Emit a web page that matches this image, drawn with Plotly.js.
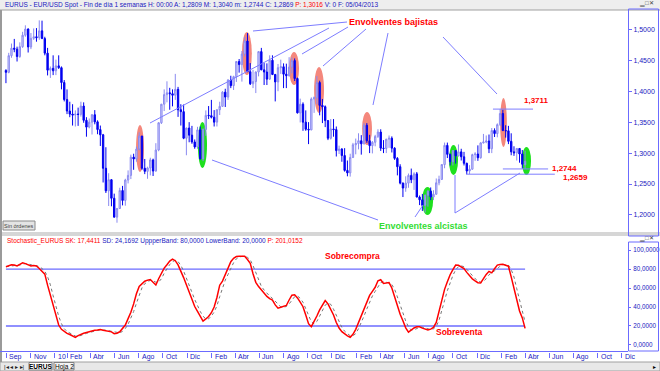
<!DOCTYPE html>
<html><head><meta charset="utf-8">
<script src="https://cdn.plot.ly/plotly-3.0.1.min.js"></script>
<style>html,body{margin:0;padding:0;background:#fff;overflow:hidden}#chart{width:660px;height:371px}</style>
</head><body><div id="chart"></div>
<script>
// ---------- DATA ----------
const firstWeek = '2009-08-31';
const opens = [1.4335,1.4305,1.4575,1.4695,1.4680,1.4560,1.4720,1.4905,1.5005,1.4715,1.4855,1.4880,1.4865,1.4975,1.4850,1.4615,1.4340,1.4370,1.4330,1.4410,1.4380,1.4140,1.3865,1.3680,1.3630,1.3615,1.3630,1.3625,1.3760,1.3530,1.3420,1.3500,1.3620,1.3505,1.3380,1.3295,1.2755,1.2390,1.2570,1.2270,1.1965,1.2105,1.2395,1.2235,1.2565,1.2640,1.2935,1.2905,1.3065,1.3275,1.2755,1.2705,1.2760,1.2890,1.2710,1.3050,1.3490,1.3790,1.3945,1.3975,1.3960,1.3935,1.4030,1.3700,1.3670,1.3240,1.3405,1.3290,1.3180,1.3100,1.3375,1.2905,1.3380,1.3610,1.3605,1.3580,1.3500,1.3700,1.3755,1.3985,1.3905,1.4180,1.4090,1.4235,1.4480,1.4430,1.4600,1.4810,1.4315,1.4120,1.4155,1.4310,1.4640,1.4345,1.4310,1.4195,1.4500,1.4270,1.4150,1.4380,1.4395,1.4275,1.4250,1.4390,1.4495,1.4205,1.3650,1.3790,1.3500,1.3385,1.3375,1.3875,1.3895,1.4140,1.3770,1.3750,1.3525,1.3240,1.3390,1.3380,1.3040,1.3065,1.2960,1.2720,1.2680,1.2930,1.3135,1.3155,1.3200,1.3150,1.3450,1.3200,1.3120,1.3175,1.3270,1.3340,1.3080,1.3075,1.3225,1.3240,1.3080,1.2915,1.2780,1.2515,1.2435,1.2515,1.2640,1.2570,1.2665,1.2290,1.2245,1.2155,1.2320,1.2385,1.2290,1.2335,1.2520,1.2575,1.2815,1.3125,1.2980,1.2860,1.3040,1.2955,1.3020,1.2940,1.2835,1.2710,1.2740,1.2975,1.2985,1.2925,1.3165,1.3180,1.3195,1.3070,1.3365,1.3315,1.3460,1.3640,1.3365,1.3360,1.3190,1.3020,1.3005,1.3075,1.2985,1.2809];
const highs = [1.4355,1.4620,1.4770,1.4845,1.4720,1.4790,1.4960,1.5065,1.5015,1.4940,1.5015,1.5020,1.5145,1.5140,1.4880,1.4700,1.4400,1.4580,1.4510,1.4580,1.4400,1.4180,1.4030,1.3830,1.3790,1.3690,1.3735,1.3830,1.3820,1.3580,1.3560,1.3630,1.3695,1.3530,1.3445,1.3310,1.3095,1.2675,1.2580,1.2345,1.2110,1.2440,1.2470,1.2585,1.2720,1.2975,1.2990,1.3105,1.3335,1.3280,1.2905,1.2780,1.2925,1.2910,1.3160,1.3500,1.3795,1.4030,1.4160,1.4055,1.4030,1.4280,1.4070,1.3790,1.3785,1.3410,1.3500,1.3440,1.3220,1.3425,1.3430,1.3400,1.3690,1.3760,1.3860,1.3695,1.3710,1.3830,1.4000,1.4040,1.4195,1.4250,1.4250,1.4485,1.4520,1.4650,1.4880,1.4940,1.4455,1.4345,1.4320,1.4650,1.4700,1.4455,1.4450,1.4580,1.4580,1.4280,1.4440,1.4510,1.4450,1.4445,1.4550,1.4545,1.4530,1.4220,1.3880,1.3820,1.3690,1.3500,1.3900,1.3915,1.4245,1.4170,1.3875,1.3770,1.3535,1.3550,1.3550,1.3430,1.3120,1.3080,1.3080,1.2880,1.2990,1.3165,1.3235,1.3320,1.3290,1.3485,1.3485,1.3295,1.3195,1.3295,1.3385,1.3385,1.3210,1.3230,1.3285,1.3270,1.3095,1.2935,1.2820,1.2525,1.2625,1.2670,1.2750,1.2690,1.2695,1.2315,1.2340,1.2330,1.2400,1.2445,1.2400,1.2590,1.2635,1.2820,1.3170,1.3170,1.2990,1.3045,1.3045,1.3140,1.3070,1.3020,1.2845,1.2805,1.2990,1.3015,1.3125,1.3175,1.3310,1.3285,1.3300,1.3405,1.3400,1.3480,1.3711,1.3700,1.3450,1.3440,1.3320,1.3110,1.3080,1.3075,1.3050,1.3040];
const lows = [1.4130,1.4290,1.4540,1.4630,1.4480,1.4540,1.4700,1.4880,1.4625,1.4680,1.4830,1.4800,1.4830,1.4850,1.4580,1.4255,1.4215,1.4260,1.4260,1.4360,1.4030,1.3835,1.3630,1.3580,1.3445,1.3430,1.3440,1.3590,1.3490,1.3265,1.3400,1.3300,1.3465,1.3305,1.3115,1.2525,1.2355,1.2145,1.2140,1.1960,1.1875,1.2100,1.2155,1.2150,1.2510,1.2580,1.2730,1.2860,1.3045,1.2730,1.2660,1.2585,1.2640,1.2630,1.2700,1.3030,1.3470,1.3680,1.3820,1.3700,1.3755,1.3860,1.3585,1.3445,1.3225,1.2965,1.3175,1.3150,1.3070,1.3070,1.2900,1.2870,1.3280,1.3550,1.3560,1.3430,1.3430,1.3615,1.3750,1.3745,1.3860,1.4050,1.4020,1.4150,1.4300,1.4155,1.4560,1.4310,1.4100,1.4050,1.3970,1.4240,1.4340,1.4100,1.4100,1.4185,1.4260,1.3835,1.4000,1.4280,1.4050,1.4050,1.4240,1.4290,1.4165,1.3640,1.3495,1.3360,1.3360,1.3145,1.3370,1.3650,1.3790,1.3610,1.3485,1.3420,1.3210,1.3220,1.3265,1.2945,1.2985,1.2860,1.2700,1.2625,1.2620,1.2920,1.2980,1.3060,1.2975,1.3140,1.3165,1.3000,1.2995,1.3110,1.3245,1.3035,1.3000,1.3000,1.3085,1.3010,1.2890,1.2640,1.2495,1.2290,1.2375,1.2440,1.2515,1.2405,1.2285,1.2160,1.2065,1.2040,1.2135,1.2240,1.2240,1.2330,1.2480,1.2565,1.2755,1.2920,1.2800,1.2800,1.2830,1.2945,1.2880,1.2800,1.2660,1.2660,1.2730,1.2875,1.2875,1.2910,1.3155,1.3160,1.3000,1.3000,1.3260,1.3255,1.3440,1.3355,1.3250,1.3145,1.2965,1.2955,1.2880,1.2845,1.2750,1.2744];
const closes = [1.4305,1.4575,1.4695,1.4680,1.4560,1.4720,1.4905,1.5005,1.4715,1.4855,1.4880,1.4865,1.4975,1.4850,1.4615,1.4340,1.4370,1.4330,1.4410,1.4380,1.4140,1.3865,1.3680,1.3630,1.3615,1.3630,1.3625,1.3760,1.3530,1.3420,1.3500,1.3620,1.3505,1.3380,1.3295,1.2755,1.2390,1.2570,1.2270,1.1965,1.2105,1.2395,1.2235,1.2565,1.2640,1.2935,1.2905,1.3065,1.3275,1.2755,1.2705,1.2760,1.2890,1.2710,1.3050,1.3490,1.3790,1.3945,1.3975,1.3960,1.3935,1.4030,1.3700,1.3670,1.3240,1.3405,1.3290,1.3180,1.3100,1.3375,1.2905,1.3380,1.3610,1.3605,1.3580,1.3500,1.3700,1.3755,1.3985,1.3905,1.4180,1.4090,1.4235,1.4480,1.4430,1.4600,1.4810,1.4315,1.4120,1.4155,1.4310,1.4640,1.4345,1.4310,1.4195,1.4500,1.4270,1.4150,1.4380,1.4395,1.4275,1.4250,1.4390,1.4495,1.4205,1.3650,1.3790,1.3500,1.3385,1.3375,1.3875,1.3895,1.4140,1.3770,1.3750,1.3525,1.3240,1.3390,1.3380,1.3040,1.3065,1.2960,1.2720,1.2680,1.2930,1.3135,1.3155,1.3200,1.3150,1.3450,1.3200,1.3120,1.3175,1.3270,1.3340,1.3080,1.3075,1.3225,1.3240,1.3080,1.2915,1.2780,1.2515,1.2435,1.2515,1.2640,1.2570,1.2665,1.2290,1.2245,1.2155,1.2320,1.2385,1.2290,1.2335,1.2520,1.2575,1.2815,1.3125,1.2980,1.2860,1.3040,1.2955,1.3020,1.2940,1.2835,1.2710,1.2740,1.2975,1.2985,1.2925,1.3165,1.3180,1.3195,1.3070,1.3365,1.3315,1.3460,1.3640,1.3365,1.3360,1.3190,1.3020,1.3005,1.3075,1.2985,1.2820,1.2869];
const stochK = [82.5,83.5,84.5,84.3,83.2,85,86.6,85.7,84,83.2,83.8,83.3,80.6,78,74.6,63,52.5,40,30,21,16.5,14,12.2,11,9.2,8,9.8,11.3,12.3,13.2,14.1,14.9,15.4,15.8,16.4,15.5,15,14.8,13.8,11.9,12.4,13.9,17,21,27.8,34.5,43.3,54,61.6,65,67.2,68.3,69,66,63.2,69.8,76,81,84.6,88.4,90.5,88.8,84.4,78.4,71,63.5,55.9,47.2,40.5,35.5,29.9,25.2,27.4,30,34,40,50,63,67.3,74.5,81,87.8,91.3,93.2,93.4,93.4,93.4,90,86,75,66,61.5,57.8,54.5,51.2,48.9,47.3,42.2,38.8,39.7,40.6,41.6,47.4,52.4,52.9,49.6,45.1,40.3,31.5,22.4,19.3,24.6,30.5,37,42.2,46.8,43.3,38.2,31.6,23.7,17.9,14,11.5,9.6,8.1,11.3,16.5,23.9,30,38,46,52.2,56.5,60.8,67.6,68.7,64.8,65.2,65.7,60,50.5,41.6,32.4,25.6,18,13.6,15.8,17.9,19.2,19.2,17.7,16.4,15.8,16.7,18.5,23.8,35.6,46.6,58.6,66.5,74,79.3,84.2,84,82.4,80.5,76.5,72.5,69.7,67.6,65.6,65.3,70,74.3,77.6,76,80.4,84.2,84.9,85,84,83,71.8,60,46.2,35.8,28.5,17.44];
const stochD = [82.5,83,83.5,84.1,84,84.2,84.9,85.8,85.4,84.3,83.7,83.4,82.6,80.6,77.7,71.9,63.4,51.8,40.8,30.3,22.5,17.2,14.2,12.4,10.8,9.4,9,9.7,11.1,12.3,13.2,14.1,14.8,15.4,15.9,15.9,15.6,15.1,14.5,13.5,12.7,12.7,14.4,17.3,21.9,27.8,35.2,43.9,53,60.2,64.6,66.8,68.2,67.8,66.1,66.3,69.7,75.6,80.5,84.7,87.8,89.2,87.9,83.9,77.9,71,63.5,55.5,47.9,41.1,35.3,30.2,27.5,27.5,30.5,34.7,41.3,51,60.1,68.3,74.3,81.1,86.7,90.8,92.6,93.3,93.4,92.3,89.8,83.7,75.7,67.5,61.8,57.9,54.5,51.5,49.1,46.1,42.8,40.2,39.7,40.6,43.2,47.1,50.9,51.6,49.2,45,39,31.4,24.4,22.1,24.8,30.7,36.6,42,44.1,42.8,37.7,31.2,24.4,18.5,14.5,11.7,9.7,9.7,12,17.2,23.5,30.6,38,45.4,51.6,56.5,61.6,65.7,67,66.2,65.2,63.6,58.7,50.7,41.5,33.2,25.3,19.1,15.8,15.8,17.6,18.8,18.7,17.8,16.6,16.3,17,19.7,26,35.3,46.9,57.2,66.4,73.3,79.2,82.5,83.5,82.3,79.8,76.5,72.9,69.9,67.6,66.2,67,69.9,74,76,78,80.2,83.2,84.7,84.6,84,79.6,71.6,59.3,47.3,36.8,24.17];
const upperBand = 80, lowerBand = 20;
const levels = [1.3711, 1.2744, 1.2659];
const levelLabels = ['1,3711', '1,2744', '1,2659'];
const tickDates = ['2009-09-01','2009-11-01','2010-01-01','2010-02-01','2010-04-01','2010-06-01','2010-08-01','2010-10-01','2010-12-01','2011-02-01','2011-04-01','2011-06-01','2011-08-01','2011-10-01','2011-12-01','2012-02-01','2012-04-01','2012-06-01','2012-08-01','2012-10-01','2012-12-01','2013-02-01','2013-04-01','2013-06-01','2013-08-01','2013-10-01','2013-12-01'];
const tickLabels = ['Sep','Nov','10','Feb','Abr','Jun','Ago','Oct','Dic','Feb','Abr','Jun','Ago','Oct','Dic','Feb','Abr','Jun','Ago','Oct','Dic','Feb','Abr','Jun','Ago','Oct','Dic'];

// weekly category dates
const weeks = [];
const t0 = Date.parse(firstWeek + 'T00:00:00Z');
for (let i = 0; i < closes.length; i++) weeks.push(new Date(t0 + i * 7 * 86400000).toISOString().slice(0, 10));

// ---------- LAYOUT HELPERS ----------
const W = 660, H = 371;
const px = v => v / W, py = v => 1 - v / H;
const FONT = 'Liberation Sans, Arial, sans-serif';
const BLUE = '#6b6bff';

const traces = [
  {type:'candlestick', x:weeks, open:opens, high:highs, low:lows, close:closes, xaxis:'x', yaxis:'y',
   increasing:{line:{color:'#8a8af0', width:1}, fillcolor:'#d8d8fb'},
   decreasing:{line:{color:'#0000f0', width:1}, fillcolor:'#0000f0'},
   whiskerwidth:0, hoverinfo:'skip', showlegend:false},
  {type:'scatter', mode:'lines', x:[weeks[0], weeks[weeks.length-1]], y:[upperBand, upperBand], xaxis:'x', yaxis:'y2', line:{color:BLUE, width:1.3}, hoverinfo:'skip', showlegend:false},
  {type:'scatter', mode:'lines', x:[weeks[0], weeks[weeks.length-1]], y:[lowerBand, lowerBand], xaxis:'x', yaxis:'y2', line:{color:BLUE, width:1.3}, hoverinfo:'skip', showlegend:false},
  {type:'scatter', mode:'lines', x:weeks, y:stochD, xaxis:'x', yaxis:'y2', line:{color:'#777', width:1, dash:'dot'}, hoverinfo:'skip', showlegend:false},
  {type:'scatter', mode:'lines', x:weeks, y:stochK, xaxis:'x', yaxis:'y2', line:{color:'#ff0000', width:1.5}, hoverinfo:'skip', showlegend:false}
];

// highlight ellipses (date range, price range)
const redEll = [['2010-07-25','2010-08-14',1.2695,1.3454],['2011-04-18','2011-05-13',1.4262,1.4956],['2011-08-15','2011-09-09',1.4100,1.4633],['2011-10-17','2011-11-11',1.3648,1.4391],['2012-02-15','2012-03-11',1.3131,1.3664],['2013-01-28','2013-02-14',1.3099,1.3890]];
const greenEll = [['2010-12-28','2011-01-20',1.2759,1.3502],['2012-07-15','2012-08-12',1.2000,1.2452],['2012-09-21','2012-10-14',1.2646,1.3131],['2013-03-24','2013-04-16',1.2646,1.3099]];

const shapes = [];
// chrome: top bar
shapes.push({type:'rect', xref:'paper', yref:'paper', x0:0, x1:1, y0:py(10), y1:1, fillcolor:'#eeeeee', line:{width:0}, layer:'below'});
shapes.push({type:'line', xref:'paper', yref:'paper', x0:0, x1:1, y0:py(10), y1:py(10), line:{color:'#a0a0a0', width:1}});
// separator between panels
shapes.push({type:'rect', xref:'paper', yref:'paper', x0:0, x1:1, y0:py(236), y1:py(232), fillcolor:'#d6d6d6', line:{width:0}, layer:'below'});
// left frame
shapes.push({type:'rect', xref:'paper', yref:'paper', x0:0, x1:px(2), y0:py(362), y1:py(10), fillcolor:'#9a9a9a', line:{width:0}});
// bottom tab bar
shapes.push({type:'rect', xref:'paper', yref:'paper', x0:0, x1:1, y0:0, y1:py(362), fillcolor:'#e8e8e8', line:{color:'#a0a0a0', width:1}, layer:'below'});
shapes.push({type:'rect', xref:'paper', yref:'paper', x0:px(29), x1:px(52), y0:py(370), y1:py(362.5), fillcolor:'#ffffff', line:{color:'#808080', width:1}});
shapes.push({type:'rect', xref:'paper', yref:'paper', x0:px(54), x1:px(74), y0:py(370), y1:py(362.5), fillcolor:'#f4f4f4', line:{color:'#808080', width:1}});
// right axis boxes
shapes.push({type:'rect', xref:'paper', yref:'paper', x0:px(628.5), x1:px(658.5), y0:py(236), y1:py(9), fillcolor:'rgba(0,0,0,0)', line:{color:BLUE, width:1}});
shapes.push({type:'rect', xref:'paper', yref:'paper', x0:px(628.5), x1:px(658.5), y0:py(351), y1:py(242), fillcolor:'rgba(0,0,0,0)', line:{color:BLUE, width:1}});
// x axis line
shapes.push({type:'line', xref:'paper', yref:'paper', x0:0, x1:px(628), y0:py(351.5), y1:py(351.5), line:{color:BLUE, width:1}});
// Sin ordenes button
shapes.push({type:'rect', xref:'paper', yref:'paper', x0:px(3), x1:px(35), y0:py(230), y1:py(221), fillcolor:'#e4e4e4', line:{color:'#8a8a8a', width:1}});
// ellipses
redEll.forEach(e => shapes.push({type:'circle', xref:'x', yref:'y', x0:e[0], x1:e[1], y0:e[2], y1:e[3], fillcolor:'#f4877c', line:{width:0}, layer:'below'}));
greenEll.forEach(e => shapes.push({type:'circle', xref:'x', yref:'y', x0:e[0], x1:e[1], y0:e[2], y1:e[3], fillcolor:'#1ee01e', line:{width:0}, layer:'below'}));
// pointer lines (pixel coords)
const pointers = [[253,31,347,22],[150,123,329,28],[302,54,348,27],[323,66,366,29],[373,105,388,33],[443,37,497,94],[212,160,378,220],[415,217,423,205],[455,213,455,175],[455,213,520,173]];
pointers.forEach(p => shapes.push({type:'line', xref:'paper', yref:'paper', x0:px(p[0]), y0:py(p[1]), x1:px(p[2]), y1:py(p[3]), line:{color:'#7d7dff', width:1}}));
// price level lines
const levelSpans = [['2013-01-10','2013-04-21'],['2013-02-04','2013-05-29'],['2012-11-03','2013-06-15']];
levels.forEach((v,i) => shapes.push({type:'line', xref:'x', yref:'y', x0:levelSpans[i][0], x1:levelSpans[i][1], y0:v, y1:v, line:{color:'#7d7dff', width:1}}));

const annotations = [];
const ann = (x, y, text, opts) => annotations.push(Object.assign({xref:'paper', yref:'paper', x:px(x), y:py(y), text, showarrow:false, xanchor:'left', yanchor:'middle', font:{family:FONT, size:7, color:'#2020c0'}}, opts||{}));
ann(3, 5, 'EURUS - EUR/USD Spot - Fin de día 1 semanas H: 00:00 A: 1,2809 M: 1,3040 m: 1,2744 C: 1,2869 <span style="color:#ff0000">P: 1,3016</span> V: 0 F: 05/04/2013', {font:{family:FONT, size:6.5, color:'#2020c0'}});
ann(5, 241, '<span style="color:#ff0000">Stochastic_EURUS SK: 17,4411</span> SD: 24,1692 UppperBand: 80,0000 LowerBand: 20,0000 <span style="color:#ff0000">P: 201,0152</span>', {font:{family:FONT, size:6.5, color:'#2020c0'}});
ann(19, 225.5, 'Sin órdenes', {xanchor:'center', font:{family:FONT, size:5.5, color:'#404040'}});
ann(393, 22, '<b>Envolventes bajistas</b>', {xanchor:'center', font:{family:FONT, size:9, color:'#ff0000'}});
ann(423, 226, '<b>Envolventes alcistas</b>', {xanchor:'center', font:{family:FONT, size:9, color:'#33dd33'}});
ann(522, 101, '<b>' + levelLabels[0] + '</b>', {font:{family:FONT, size:8, color:'#ff0000'}});
ann(550, 168, '<b>' + levelLabels[1] + '</b>', {font:{family:FONT, size:8, color:'#ff0000'}});
ann(561, 177, '<b>' + levelLabels[2] + '</b>', {font:{family:FONT, size:8, color:'#ff0000'}});
ann(352, 256, '<b>Sobrecompra</b>', {xanchor:'center', font:{family:FONT, size:8.5, color:'#ff0000'}});
ann(459, 332, '<b>Sobreventa</b>', {xanchor:'center', font:{family:FONT, size:8.5, color:'#ff0000'}});
// window icons
ann(646, 4, '▁□✕', {xanchor:'center', font:{family:FONT, size:6, color:'#404040'}});
ann(646, 238, '▁□✕', {xanchor:'center', font:{family:FONT, size:6, color:'#404040'}});
// bottom tabs
ann(2, 366.5, '|◂ ◂ ▸ ▸|', {font:{family:FONT, size:6, color:'#202020'}});
ann(40.5, 366.5, '<b>EURUS</b>', {xanchor:'center', font:{family:FONT, size:6.5, color:'#000'}});
ann(64, 366.5, 'Hoja 2', {xanchor:'center', font:{family:FONT, size:6.5, color:'#000'}});
ann(651, 366.5, '▸', {font:{family:FONT, size:6, color:'#000'}});
// x tick labels
tickDates.forEach((d,i) => annotations.push({xref:'x', yref:'paper', x:d, y:py(356.5), text:tickLabels[i], showarrow:false, xanchor:'left', yanchor:'middle', xshift:1, font:{family:FONT, size:7, color:'#2020c0'}}));

const layout = {
  width:W, height:H, margin:{l:0,r:0,t:0,b:0}, paper_bgcolor:'#ffffff', plot_bgcolor:'rgba(0,0,0,0)',
  showlegend:false, separators:',.', dragmode:false,
  xaxis:{type:'date', domain:[px(3), px(628)], range:['2009-08-23 14:00','2013-12-16 12:00'], anchor:'y2',
    rangeslider:{visible:false}, showgrid:false, zeroline:false, showline:false,
    tickvals:tickDates, ticktext:tickLabels, showticklabels:false, ticks:'outside', ticklen:5, tickcolor:BLUE, tickwidth:1},
  yaxis:{domain:[py(232), py(12)], range:[1.1725, 1.5280], side:'right', anchor:'x', showgrid:false, zeroline:false,
    showline:false, tickvals:[1.2,1.25,1.3,1.35,1.4,1.45,1.5], tickformat:'.4f', ticks:'outside', ticklen:3, tickcolor:BLUE,
    tickfont:{family:FONT, size:7, color:'#2020c0'}},
  yaxis2:{domain:[py(352), py(242)], range:[-7.4, 108.5], side:'right', anchor:'x', showgrid:false, zeroline:false,
    showline:false, tickvals:[0,20,40,60,80,100], tickformat:'.4f', ticks:'outside', ticklen:2, ticklabelstandoff:1, tickcolor:BLUE,
    tickfont:{family:FONT, size:6.3, color:'#2020c0'}},
  shapes, annotations
};
Plotly.newPlot('chart', traces, layout, {staticPlot:true, displayModeBar:false});
</script></body></html>
